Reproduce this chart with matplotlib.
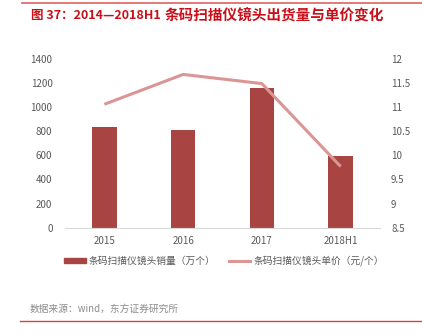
import matplotlib
matplotlib.use("Agg")
import matplotlib.pyplot as plt
from matplotlib.lines import Line2D
from matplotlib.patches import Patch

plt.rcParams['font.family'] = ['Noto Sans CJK SC', 'DejaVu Sans']

categories = ['2015', '2016', '2017', '2018H1']
volume = [833, 813, 1157, 592]          # 万个
unit_price = [11.06, 11.68, 11.49, 9.77]  # 元/个
left_ticks = [0, 200, 400, 600, 800, 1000, 1200, 1400]
right_ticks = [8.5, 9, 9.5, 10, 10.5, 11, 11.5, 12]

title_head = '图 37：2014—2018H1'
title_body = '条码扫描仪镜头出货量与单价变化'
bar_label = '条码扫描仪镜头销量（万个）'
line_label = '条码扫描仪镜头单价（元/个）'
source = '数据来源：wind，东方证券研究所'

bar_color = '#A84543'
line_color = '#D99694'
tick_color = '#595959'
title_color = '#C8101A'

fig = plt.figure(figsize=(4.22, 3.36), dpi=100)
W, H = 422, 336

ax = fig.add_axes([65 / W, 1 - 227.7 / H, 315 / W, (227.7 - 59) / H])
x = list(range(len(categories)))
ax.bar(x, volume, width=0.31, color=bar_color, zorder=2)
ax.set_xlim(-0.5, len(categories) - 0.5)
ax.set_ylim(0, 1400)
ax.set_yticks(left_ticks)
ax.set_yticklabels([str(t) for t in left_ticks])
ax.set_xticks(x)
ax.set_xticklabels(categories)
for s in ['top', 'right', 'left']:
    ax.spines[s].set_visible(False)
ax.spines['bottom'].set_color('#d9d9d9')
ax.tick_params(axis='both', length=0, labelsize=7, colors=tick_color, pad=9)
ax.tick_params(axis='x', pad=6)

ax2 = ax.twinx()
ax2.plot(x, unit_price, color=line_color, lw=2.2, zorder=3, solid_capstyle='butt')
ax2.set_ylim(8.5, 12)
ax2.set_yticks(right_ticks)
ax2.set_yticklabels([f'{t:g}' for t in right_ticks])
for s in ['top', 'right', 'left', 'bottom']:
    ax2.spines[s].set_visible(False)
ax2.tick_params(axis='y', length=0, labelsize=7, colors=tick_color, pad=8)

handles = [Patch(color=bar_color), Line2D([0], [0], color=line_color, lw=2.2)]
fig.legend(handles, [bar_label, line_label], loc='center', bbox_to_anchor=(224 / W, 1 - 261 / H),
           ncol=2, frameon=False, fontsize=7, handlelength=2.2, handleheight=0.5,
           handletextpad=0.3, columnspacing=1.4, labelcolor=tick_color)

# title: numeric head followed by the Chinese body
head = fig.text(31 / W, 1 - 16 / H, title_head, fontsize=9, fontweight='bold',
                color=title_color, ha='left', va='center')
ax.annotate(title_body, xy=(1, 0.5), xycoords=head, xytext=(3, 0), textcoords='offset points',
            fontsize=10.5, fontweight='bold', color=title_color, ha='left', va='center',
            annotation_clip=False)
fig.add_artist(Line2D([22 / W, 1], [1 - 2.5 / H, 1 - 2.5 / H], color='#E06060', lw=1.2))
fig.text(30 / W, 1 - 309 / H, source, fontsize=7, color='#8c8c8c', ha='left', va='center')
fig.add_artist(Line2D([20 / W, 1], [1 - 321 / H, 1 - 321 / H], color='#D94040', lw=1.0))

fig.savefig('out.png', dpi=100)
